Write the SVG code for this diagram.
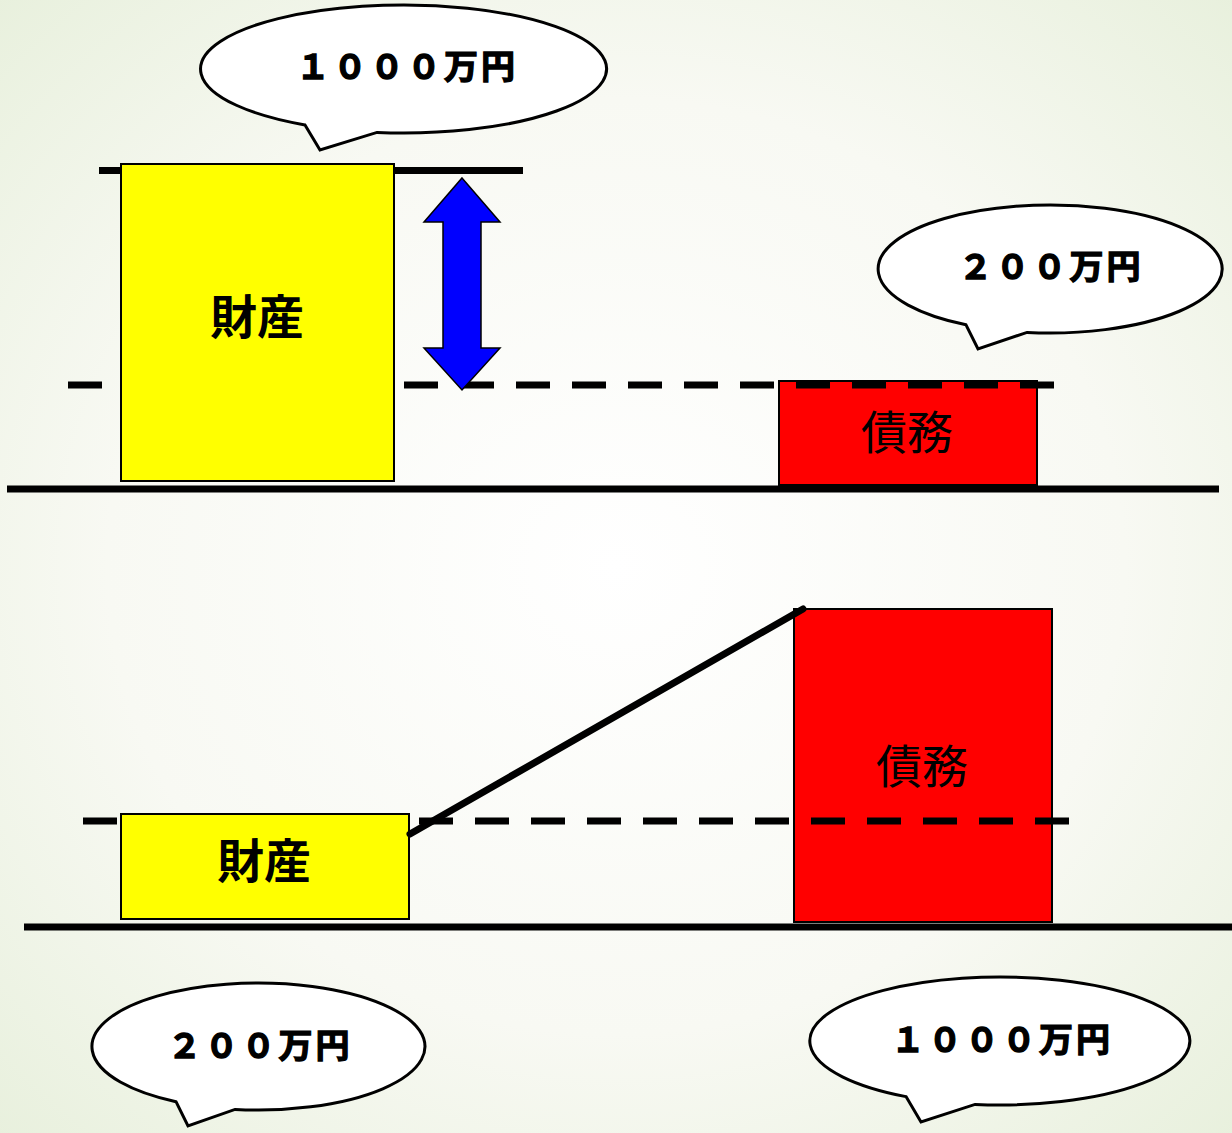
<svg xmlns="http://www.w3.org/2000/svg" width="1232" height="1133" viewBox="0 0 1232 1133">
<defs>
<radialGradient id="bg" cx="0.5" cy="0.5" r="0.75">
<stop offset="0" stop-color="#ffffff"/>
<stop offset="0.55" stop-color="#f8f9f3"/>
<stop offset="1" stop-color="#e6efda"/>
</radialGradient>
<style>
.yel{fill:#ffff00;stroke:#000;stroke-width:2}
.red{fill:#ff0000;stroke:#000;stroke-width:2}
.solid{stroke:#000;stroke-width:7;fill:none}
.dash{stroke:#000;stroke-width:7;fill:none;stroke-dasharray:34 22}
.bubble{fill:#fff;stroke:#000;stroke-width:3;stroke-linejoin:miter}
.num{font-family:"Noto Sans CJK JP","Noto Sans",sans-serif;font-weight:bold;font-size:34px;letter-spacing:3px;text-anchor:middle;dominant-baseline:central;fill:#000;stroke:#000;stroke-width:1.3}
.big{font-family:"Noto Sans CJK JP",sans-serif;font-weight:bold;font-size:47px;text-anchor:middle;dominant-baseline:central;fill:#000}
.debt{font-family:"Noto Sans CJK JP",sans-serif;font-weight:normal;font-size:46px;text-anchor:middle;dominant-baseline:central;fill:#000}
</style>
</defs>
<rect x="0" y="0" width="1232" height="1133" fill="url(#bg)"/>

<g id="debt-top"><rect class="red" x="779" y="381" width="258" height="104"/></g>
<g id="debt-bottom"><rect class="red" x="794" y="609" width="258" height="313"/></g>

<g id="connectors">
<line class="solid" x1="99" y1="170.5" x2="523" y2="170.5"/>
<line class="dash" x1="68" y1="385" x2="1054" y2="385"/>
<line class="dash" x1="83" y1="821" x2="1069" y2="821"/>
<line class="solid" x1="7" y1="489" x2="1219" y2="489"/>
<line class="solid" x1="24" y1="927" x2="1232" y2="927"/>
</g>

<g id="asset-top"><rect class="yel" x="121" y="164" width="273" height="317"/><text class="big" x="257" y="313">財産</text></g>
<g id="asset-bottom"><rect class="yel" x="121" y="814" width="288" height="105"/><text class="big" x="264" y="857">財産</text></g>

<g id="debt-labels">
<text class="debt" x="907" y="429">債務</text>
<text class="debt" x="922" y="763">債務</text>
</g>

<g id="diff-arrow">
<polygon points="462,178 500,222 481,222 481,348 500,348 462,390 424,348 443,348 443,222 424,222" fill="#0000ff" stroke="#000" stroke-width="1.5"/>
</g>

<g id="growth-line">
<line x1="410" y1="834" x2="803" y2="609" stroke="#000" stroke-width="7" stroke-linecap="round"/>
</g>

<g id="callout-1000-top">
<path class="bubble" d="M305,124.9 L320,150 L377,132.4 A203,64 0 1 0 305,124.9 Z"/>
<text class="num" x="407" y="64">１０００万円</text>
</g>
<g id="callout-200-top">
<path class="bubble" d="M966,324.8 L978,349 L1027,332.4 A172,64 0 1 0 966,324.8 Z"/>
<text class="num" x="1051" y="264">２００万円</text>
</g>
<g id="callout-200-bottom">
<path class="bubble" d="M176,1101.7 L188,1126 L235,1109.4 A166.5,63.5 0 1 0 176,1101.7 Z"/>
<text class="num" x="260" y="1043">２００万円</text>
</g>
<g id="callout-1000-bottom">
<path class="bubble" d="M906,1096.6 L921,1122 L975,1104.4 A190,64 0 1 0 906,1096.6 Z"/>
<text class="num" x="1002" y="1037">１０００万円</text>
</g>
</svg>
